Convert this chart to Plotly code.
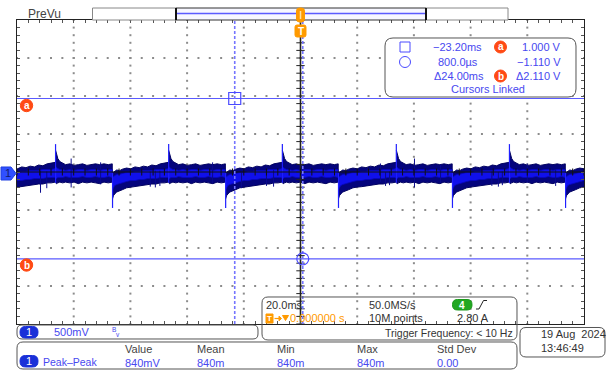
import plotly.graph_objects as go

# ---------------- acquisition settings ----------------
TIME_DIV_MS = 20.0
VOLT_DIV = 0.5
N_HDIV, N_VDIV, MINOR = 10, 8, 5
CENTER_V = 0.033          # screen centre voltage relative to CH1 ground

# ---------------- CH1 waveform description ----------------
# switching events (ms)
RISE_T = [-86.4, -46.5, -6.4, 33.8, 73.7]
FALL_T = [-106.3, -66.3, -26.4, 13.4, 53.6, 93.5]
RISE_PEAK_V = 0.40
FALL_PEAK_V = -0.44

# envelope of one half-cycle, sampled at fractions of the half-cycle
PHASE = [0.0, 0.015, 0.04, 0.075, 0.125, 0.175, 0.25, 0.325, 0.4, 0.475,
         0.55, 0.625, 0.7, 0.775, 0.85, 0.925, 0.995]
HIGH_TOP = [0.32, 0.26, 0.21, 0.17, 0.15, 0.13, 0.14, 0.12, 0.13,
            0.14, 0.12, 0.13, 0.14, 0.13, 0.14, 0.13, 0.14]
HIGH_BOT = [-0.11, -0.12, -0.11, -0.10, -0.11, -0.10, -0.11, -0.10,
            -0.12, -0.10, -0.11, -0.10, -0.11, -0.12, -0.10, -0.11, -0.10]
HIGH_CORE_TOP = [0.106, 0.092, 0.079, 0.066, 0.066, 0.053, 0.066, 0.053, 0.066,
                 0.066, 0.053, 0.066, 0.066, 0.053, 0.066, 0.066, 0.066]
HIGH_CORE_BOT = [-0.053, -0.053, -0.040, -0.040, -0.040, -0.026, -0.040, -0.040,
                 -0.040, -0.026, -0.040, -0.040, -0.026, -0.040, -0.040, -0.026, -0.040]
LOW_TOP = [0.02, 0.03, 0.045, 0.06, 0.05, 0.07, 0.085, 0.075, 0.10,
           0.09, 0.11, 0.10, 0.125, 0.115, 0.14, 0.15, 0.16]
LOW_BOT = [-0.32, -0.28, -0.255, -0.23, -0.215, -0.20, -0.175, -0.165,
           -0.16, -0.15, -0.14, -0.135, -0.125, -0.125, -0.11, -0.11, -0.10]
LOW_CORE_TOP = [-0.040, -0.026, -0.013, 0.000, 0.000, 0.013, 0.026, 0.026, 0.040,
                0.040, 0.053, 0.053, 0.053, 0.066, 0.066, 0.066, 0.079]
LOW_CORE_BOT = [-0.198, -0.172, -0.145, -0.132, -0.119, -0.106, -0.092, -0.079,
                -0.079, -0.066, -0.066, -0.053, -0.053, -0.053, -0.040, -0.040, -0.040]

# isolated glitches: time (ms), top (V), bottom (V)
GLITCH_T = [-91.7, -89.5, -80.9, -70.5, -53.0, -51.2, -49.6, -31.0, -20.8, -12.0,
            -9.5, 28.2, 30.0, 31.4, 40.2, 49.4, 67.5, 69.8, 71.2, 80.0, 90.0]
GLITCH_TOP = [0.05, 0.04, 0.21, 0.16, 0.04, 0.05, 0.05, 0.16, 0.03, 0.06,
              0.06, 0.145, 0.03, 0.04, 0.21, 0.132, 0.04, 0.03, 0.04, 0.145, 0.06]
GLITCH_BOT = [-0.24, -0.18, -0.17, -0.13, -0.16, -0.17, -0.15, -0.12, -0.18, -0.15,
              -0.16, -0.10, -0.15, -0.14, -0.17, -0.11, -0.15, -0.16, -0.14, -0.11, -0.15]

# ---------------- cursors & measurements ----------------
CURSOR_X1_MS = -23.2
CURSOR_X2_MS = 0.8
CURSOR_A_V = 1.0
CURSOR_B_V = -1.11
PP_VALUE_V = 0.84
PP_STD = 0.0
SAMPLE_RATE = "50.0MS/s"
RECORD_LEN = "10M points"
TRIG_LEVEL = "2.80 A"
TRIG_FREQ = "Trigger Frequency: < 10 Hz"
DATE_TXT = "19 Aug  2024"
TIME_TXT = "13:46:49"

# ---------------- page geometry (pixels) ----------------
FIG_W, FIG_H = 608, 370
PL, PT, PW, PH = 17, 20, 567, 304
FONT = "Liberation Sans"
DARK = "#333333"
BLUE_TXT = "#4848f0"
CURSOR_C = "#5a5aff"
ORANGE = "#ff9a00"
RED_O = "#ff4a14"


def X(px):
    return (px - PL) / PW


def Y(py):
    return (PT + PH - py) / PH


X_RANGE = [-N_HDIV / 2 * TIME_DIV_MS, N_HDIV / 2 * TIME_DIV_MS]
Y_RANGE = [CENTER_V - N_VDIV / 2 * VOLT_DIV, CENTER_V + N_VDIV / 2 * VOLT_DIV]

fig = go.Figure()

# ---------------- graticule dots ----------------
minor_t = TIME_DIV_MS / MINOR
minor_v = VOLT_DIV / MINOR
gx, gy = [], []
for i in range(1, N_HDIV):
    t = X_RANGE[0] + i * TIME_DIV_MS
    if abs(t) < 1e-9:
        continue
    for k in range(N_VDIV * MINOR + 1):
        gx.append(t)
        gy.append(Y_RANGE[0] + k * minor_v)
for j in range(1, N_VDIV):
    v = Y_RANGE[0] + j * VOLT_DIV
    if j == N_VDIV // 2:
        continue
    for k in range(N_HDIV * MINOR + 1):
        gx.append(X_RANGE[0] + k * minor_t)
        gy.append(v)
fig.add_trace(go.Scatter(x=gx, y=gy, mode="markers", hoverinfo="skip",
                         marker=dict(symbol="square", size=2, color="#8c8c8c", line=dict(width=0))))

# ---------------- CH1 trace ----------------
events = sorted([(t, "high") for t in RISE_T] + [(t, "low") for t in FALL_T])
outer_x, outer_y, core_x, core_y = [], [], [], []
for idx, (t0, kind) in enumerate(events):
    t1 = events[idx + 1][0] if idx + 1 < len(events) else t0 + TIME_DIV_MS
    span = t1 - t0
    if kind == "high":
        top, bot, ctop, cbot = HIGH_TOP, HIGH_BOT, HIGH_CORE_TOP, HIGH_CORE_BOT
    else:
        top, bot, ctop, cbot = LOW_TOP, LOW_BOT, LOW_CORE_TOP, LOW_CORE_BOT
    xs = [t0 + p * span for p in PHASE]
    outer_x += xs + xs[::-1] + [None]
    outer_y += top + bot[::-1] + [None]
    core_x += xs + xs[::-1] + [None]
    core_y += ctop + cbot[::-1] + [None]

fig.add_trace(go.Scatter(x=outer_x, y=outer_y, mode="lines", fill="toself",
                         fillcolor="#04047c", line=dict(color="#020260", width=1),
                         hoverinfo="skip"))
fig.add_trace(go.Scatter(x=core_x, y=core_y, mode="lines", fill="toself",
                         fillcolor="#1010ec", line=dict(color="#0808c0", width=0.8),
                         hoverinfo="skip"))

hx, hy = [], []
for t, a, b in zip(GLITCH_T, GLITCH_TOP, GLITCH_BOT):
    hx += [t, t, None]
    hy += [a, b, None]
fig.add_trace(go.Scatter(x=hx, y=hy, mode="lines", line=dict(color="#0a0a8c", width=1),
                         hoverinfo="skip"))
sx, sy = [], []
for t in RISE_T:
    sx += [t, t, None]
    sy += [HIGH_BOT[0], RISE_PEAK_V, None]
for t in FALL_T:
    sx += [t, t, None]
    sy += [LOW_TOP[0], FALL_PEAK_V, None]
fig.add_trace(go.Scatter(x=sx, y=sy, mode="lines", line=dict(color="#2020ff", width=1.2),
                         hoverinfo="skip"))

# ---------------- centre axes with ticks ----------------
fig.add_trace(go.Scatter(x=X_RANGE, y=[CENTER_V, CENTER_V], mode="lines",
                         line=dict(color="#111111", width=1.2), hoverinfo="skip"))
fig.add_trace(go.Scatter(x=[0, 0], y=Y_RANGE, mode="lines",
                         line=dict(color="#222222", width=1.6), hoverinfo="skip"))
fig.add_trace(go.Scatter(x=[X_RANGE[0] + k * minor_t for k in range(N_HDIV * MINOR + 1)],
                         y=[CENTER_V] * (N_HDIV * MINOR + 1), mode="markers",
                         marker=dict(symbol="line-ns", size=5, line=dict(color="#111111", width=1)),
                         hoverinfo="skip"))
fig.add_trace(go.Scatter(x=[0] * (N_VDIV * MINOR + 1),
                         y=[Y_RANGE[0] + k * minor_v for k in range(N_VDIV * MINOR + 1)],
                         mode="markers",
                         marker=dict(symbol="line-ew", size=6, line=dict(color="#222222", width=1)),
                         hoverinfo="skip"))

# ---------------- cursors ----------------
for v in (CURSOR_A_V, CURSOR_B_V):
    fig.add_trace(go.Scatter(x=X_RANGE, y=[v, v], mode="lines",
                             line=dict(color=CURSOR_C, width=1.2), hoverinfo="skip"))
for t in (CURSOR_X1_MS, CURSOR_X2_MS):
    fig.add_trace(go.Scatter(x=[t, t], y=Y_RANGE, mode="lines",
                             line=dict(color="#7474ff", width=1.6, dash="3px,2px"),
                             hoverinfo="skip"))
fig.add_trace(go.Scatter(x=[CURSOR_X1_MS], y=[CURSOR_A_V], mode="markers", hoverinfo="skip",
                         marker=dict(symbol="square-open", size=12, color="#4a4aff",
                                     line=dict(width=1.2))))
fig.add_trace(go.Scatter(x=[CURSOR_X2_MS], y=[CURSOR_B_V], mode="markers", hoverinfo="skip",
                         marker=dict(symbol="circle-open", size=12, color="#4a4aff",
                                     line=dict(width=1.2))))

# ---------------- decoration helpers ----------------
shapes, anns = [], []


def label(x, y, text, color=DARK, size=11, anchor="left"):
    anns.append(dict(x=X(x), y=Y(y), xref="paper", yref="paper", text=text,
                     showarrow=False, xanchor=anchor, yanchor="middle",
                     font=dict(family=FONT, size=size, color=color)))


def pth(points, closed=False):
    s = " ".join(("M " if i == 0 else "L ") + f"{X(a):.5f},{Y(b):.5f}"
                 for i, (a, b) in enumerate(points))
    return s + (" Z" if closed else "")


def rrect(x0, y0, x1, y1, r, line="#555555", fill="rgba(0,0,0,0)", width=1):
    p = [("M", x0 + r, y0), ("L", x1 - r, y0), ("Q", x1, y0, x1, y0 + r),
         ("L", x1, y1 - r), ("Q", x1, y1, x1 - r, y1), ("L", x0 + r, y1),
         ("Q", x0, y1, x0, y1 - r), ("L", x0, y0 + r), ("Q", x0, y0, x0 + r, y0)]
    parts = []
    for seg_ in p:
        cmd, coords = seg_[0], seg_[1:]
        pts = []
        for i in range(0, len(coords), 2):
            pts.append(f"{X(coords[i]):.5f},{Y(coords[i + 1]):.5f}")
        parts.append(cmd + " " + " ".join(pts))
    shapes.append(dict(type="path", xref="paper", yref="paper", path=" ".join(parts) + " Z",
                       line=dict(color=line, width=width), fillcolor=fill, layer="above"))


def rect(x0, y0, x1, y1, line="#555555", fill="rgba(0,0,0,0)", width=1):
    shapes.append(dict(type="rect", xref="paper", yref="paper", x0=X(x0), x1=X(x1),
                       y0=Y(y1), y1=Y(y0), line=dict(color=line, width=width),
                       fillcolor=fill, layer="above"))


def seg(x0, y0, x1, y1, color, width=1):
    shapes.append(dict(type="line", xref="paper", yref="paper", x0=X(x0), x1=X(x1),
                       y0=Y(y0), y1=Y(y1), line=dict(color=color, width=width), layer="above"))


def disc(cx, cy, r, fill, line=None):
    shapes.append(dict(type="circle", xref="paper", yref="paper", x0=X(cx - r), x1=X(cx + r),
                       y0=Y(cy + r), y1=Y(cy - r), fillcolor=fill,
                       line=dict(color=line or fill, width=1), layer="above"))


# ---------------- PreVu bar ----------------
label(26, 14, "PreVu", color="#444444", size=12)
rect(92.5, 8, 176, 20, line="#888888", fill="white")
rect(426, 8, 508, 20, line="#888888", fill="white")
rect(176, 8, 426, 20, line="#333333", fill="#f6f6ff")
seg(177, 13.5, 425, 13.5, "#5a5aff", 1.5)
seg(176, 8, 176, 20, "#111111", 2)
seg(426, 8, 426, 20, "#111111", 2)
rrect(296.5, 8, 304.5, 22, 3, line=ORANGE, fill=ORANGE)
seg(300.5, 11, 300.5, 19, "#ffe0a0", 1.5)
rrect(295, 25, 306, 37, 2, line=ORANGE, fill=ORANGE)
anns.append(dict(x=X(300.5), y=Y(31), xref="paper", yref="paper", text="<b>T</b>",
                 showarrow=False, xanchor="center", yanchor="middle",
                 font=dict(family=FONT, size=10, color="white")))

# ---------------- channel & cursor markers ----------------
shapes.append(dict(type="path", xref="paper", yref="paper",
                   path=pth([(1, 167), (11, 167), (16, 173.5), (11, 180), (1, 180)], closed=True),
                   fillcolor="#3050ff", line=dict(color="#2040e0", width=1), layer="above"))
label(7.5, 173.5, "1", color="#101a70", size=11, anchor="center")

for name, cy in (("a", 105.5), ("b", 265)):
    disc(26.5, cy, 6.2, RED_O)
    label(26.5, cy, f"<b>{name}</b>", color="white", size=10, anchor="center")

# ---------------- cursor readout ----------------
rrect(385, 38, 576, 97, 8, line="#555555", fill="white")
shapes.append(dict(type="rect", xref="paper", yref="paper", x0=X(400), x1=X(410),
                   y0=Y(52), y1=Y(42), line=dict(color="#4a4aff", width=1), layer="above"))
shapes.append(dict(type="circle", xref="paper", yref="paper", x0=X(399.5), x1=X(410.5),
                   y0=Y(67.5), y1=Y(56.5), line=dict(color="#4a4aff", width=1), layer="above"))


def fmt_signed(v):
    s = f"{abs(v):.3f} V"
    return ("\u2212" if v < 0 else "") + s


label(484, 47, ("\u2212" if CURSOR_X1_MS < 0 else "") + f"{abs(CURSOR_X1_MS):.2f}ms",
      color=BLUE_TXT, anchor="right")
label(480, 62, f"{CURSOR_X2_MS * 1000:.1f}\u00b5s", color=BLUE_TXT, anchor="right")
label(486, 76, f"\u0394{abs(CURSOR_X2_MS - CURSOR_X1_MS):.2f}ms", color=BLUE_TXT, anchor="right")
label(563, 47, fmt_signed(CURSOR_A_V), color=BLUE_TXT, anchor="right")
label(563, 62, fmt_signed(CURSOR_B_V), color=BLUE_TXT, anchor="right")
label(563, 76, f"\u0394{abs(CURSOR_A_V - CURSOR_B_V):.3f} V", color=BLUE_TXT, anchor="right")
label(488, 89.5, "Cursors Linked", color=BLUE_TXT, anchor="center")
for name, cy in (("a", 47), ("b", 76)):
    disc(500.5, cy, 6, RED_O)
    label(500.5, cy, f"<b>{name}</b>", color="white", size=10, anchor="center")

# ---------------- horizontal / trigger box ----------------
rrect(262, 297, 517, 340, 6, line="#555555")
label(264, 305, f"{TIME_DIV_MS:.1f}ms", color=DARK)
label(367, 305, SAMPLE_RATE, color=DARK)
rrect(452.5, 299.5, 472, 310, 5, line="#1a9a1a", fill="#22a722")
label(462.3, 305, "<b>4</b>", color="white", size=10, anchor="center")
shapes.append(dict(type="path", xref="paper", yref="paper",
                   path=pth([(476, 309), (479, 309), (483.5, 300.5), (487, 300.5)]),
                   line=dict(color="#222222", width=1), layer="above"))
rect(266, 314, 273, 323, line=ORANGE, fill=ORANGE)
label(269.5, 318.5, "<b>T</b>", color="white", size=8, anchor="center")
# trigger-position arrow and marker
seg(274.5, 318.5, 280, 318.5, ORANGE, 1.2)
shapes.append(dict(type="path", xref="paper", yref="paper",
                   path=pth([(279, 316.2), (281.5, 318.5), (279, 320.8)], closed=True),
                   fillcolor=ORANGE, line=dict(color=ORANGE, width=1), layer="above"))
shapes.append(dict(type="path", xref="paper", yref="paper",
                   path=pth([(282.5, 315.5), (288.5, 315.5), (285.5, 320.5)], closed=True),
                   fillcolor=ORANGE, line=dict(color=ORANGE, width=1), layer="above"))
label(288, 318, "0.000000 s", color=ORANGE)
label(367, 318, RECORD_LEN, color=DARK)
label(455, 318, TRIG_LEVEL, color=DARK)
label(515, 332.5, TRIG_FREQ, color=DARK, anchor="right", size=10.5)

# ---------------- channel box ----------------
rrect(17, 325, 258, 339, 5, line="#555555")
rrect(20, 326.5, 38, 338, 5.5, line="#1a30d8", fill="#1a30d8")
label(29, 332.3, "1", color="white", size=11, anchor="center")
label(52, 332, f"{VOLT_DIV * 1000:.0f}mV", color=BLUE_TXT)
label(110, 329, "B", color=BLUE_TXT, size=6.5)
label(114, 334, "v", color=BLUE_TXT, size=6.5)

# ---------------- measurement box ----------------
rrect(17, 342, 517, 369, 6, line="#555555")
rrect(20, 355.5, 38, 367, 5.5, line="#1a30d8", fill="#1a30d8")
label(29, 361.3, "1", color="white", size=11, anchor="center")
label(41, 362, "Peak\u2013Peak", color=BLUE_TXT, size=10.5)
headers = ["Value", "Mean", "Min", "Max", "Std Dev"]
cols = [123, 195, 275, 355, 435]
pp_mv = PP_VALUE_V * 1000
values = [f"{pp_mv:.0f}mV", f"{pp_mv:.0f}m", f"{pp_mv:.0f}m", f"{pp_mv:.0f}m", f"{PP_STD:.2f}"]
for h, v, c in zip(headers, values, cols):
    label(c, 349, h, color="#444444")
    label(c, 362.5, v, color=BLUE_TXT)

# ---------------- date box ----------------
rrect(520, 327.5, 605, 357, 6, line="#555555")
label(539, 334, DATE_TXT, color=DARK)
label(539, 347.5, TIME_TXT, color=DARK)

axis_common = dict(showgrid=False, zeroline=False, showticklabels=False, showline=True,
                   linecolor="#222222", linewidth=1, mirror="ticks", ticks="inside",
                   ticklen=3, tickcolor="#555555", tickwidth=1, fixedrange=True)
fig.update_layout(
    width=FIG_W, height=FIG_H,
    margin=dict(l=PL, r=FIG_W - PL - PW, t=PT, b=FIG_H - PT - PH, pad=0),
    paper_bgcolor="white", plot_bgcolor="white", showlegend=False,
    xaxis=dict(range=X_RANGE, dtick=minor_t, tick0=0, **axis_common),
    yaxis=dict(range=Y_RANGE, dtick=minor_v, tick0=CENTER_V, **axis_common),
    shapes=shapes, annotations=anns,
)
fig.write_html("out.html", config={"displayModeBar": False})
